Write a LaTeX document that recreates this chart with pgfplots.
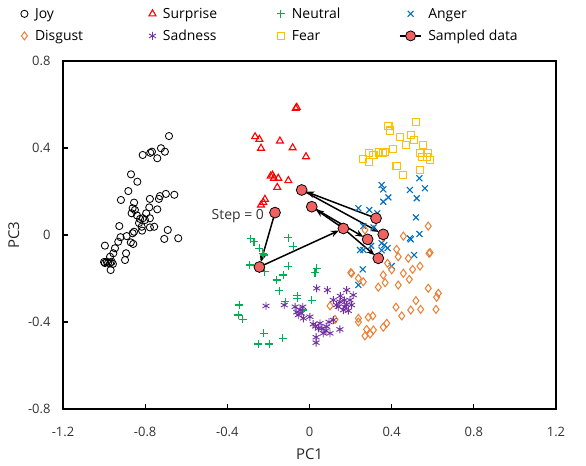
\documentclass[border=0pt]{standalone}
\usepackage{pgfplots}
\pgfplotsset{compat=1.18}
\usepackage{fontspec}
\setmainfont{Open Sans}
\usetikzlibrary{arrows.meta}

\definecolor{cneutral}{RGB}{0,176,80}
\definecolor{canger}{RGB}{0,112,192}
\definecolor{cdisgust}{RGB}{237,125,49}
\definecolor{csadness}{RGB}{112,48,160}
\definecolor{cfear}{RGB}{255,192,0}
\definecolor{csampled}{RGB}{240,98,98}

\begin{document}
\begin{tikzpicture}
\useasboundingbox (-63bp,-57bp) rectangle (523bp,409bp);
\begin{axis}[
    scale only axis,
    width=493bp, height=348bp,
    xmin=-1.2, xmax=1.2, ymin=-0.8, ymax=0.8,
    xtick={-1.2,-0.8,-0.4,0,0.4,0.8,1.2},
    ytick={-0.8,-0.4,0,0.4,0.8},
    tick pos=left, tick align=inside,
    major tick length=5bp,
    axis line style={line width=1.3bp},
    tick style={black, line width=1.2bp},
    /pgf/number format/assume math mode=true,
    ticklabel style={font=\fontsize{13}{15}\selectfont, text=black!80},
    xticklabel style={yshift=-15bp},
    yticklabel style={xshift=-9bp},
    xlabel={PC1}, ylabel={PC3},
    label style={font=\fontsize{15}{18}\selectfont, text=black!85},
    xlabel style={yshift=-5bp},
    ylabel style={yshift=2bp},
    legend columns=4,
    legend cell align=left,
    legend style={
        at={(-0.092,1.165)}, anchor=north west,
        draw=none, fill=none,
        font=\fontsize{14}{17}\selectfont,
        row sep=6bp,
        /tikz/every odd column/.append style={column sep=5bp},
        /tikz/every even column/.append style={column sep=0bp},
        /tikz/column 7/.append style={column sep=0bp}
    },
]
% Joy
\addplot[only marks, mark=o, mark size=3.6bp, black, mark options={line width=0.85bp}] coordinates {
(-0.684,0.455)(-0.723,0.399)(-0.704,0.383)(-0.767,0.383)(-0.775,0.378)(-0.812,0.368)
(-0.741,0.353)(-0.869,0.279)(-0.838,0.245)(-0.882,0.202)(-0.918,0.161)(-0.854,0.149)
(-0.777,0.166)(-0.733,0.166)(-0.699,0.189)(-0.658,0.185)(-0.728,0.179)(-0.741,0.118)
(-0.780,0.127)(-0.861,0.123)(-0.850,0.115)(-0.866,0.100)(-0.812,0.077)(-0.801,0.069)
(-0.825,0.074)(-0.777,0.077)(-0.756,0.038)(-0.777,0.035)(-0.817,0.038)(-0.926,0.041)
(-0.854,0.015)(-0.861,0.008)(-0.890,-0.005)(-0.690,0.023)(-0.707,-0.018)(-0.639,-0.015)
(-0.931,-0.031)(-0.858,-0.041)(-0.996,-0.049)(-0.947,-0.061)(-0.955,-0.084)(-0.893,-0.084)
(-0.971,-0.100)(-0.987,-0.123)(-0.971,-0.130)(-0.963,-0.123)(-0.898,-0.115)(-0.968,-0.161)
(-0.980,-0.127)(-0.870,-0.034)(-0.996,-0.129)(-1.000,-0.124)(-0.957,-0.133)(-0.840,0.090)
(-0.830,0.055)(-0.795,0.100)(-0.920,-0.010)(-0.815,0.020)
};
\addlegendentry{\makebox[112bp][l]{Joy}}
% Surprise
\addplot[only marks, mark=triangle, mark size=4bp, red, mark options={line width=1.1bp}] coordinates {
(-0.067,0.582)(-0.062,0.587)(-0.265,0.452)(-0.244,0.440)(-0.236,0.399)(-0.144,0.432)
(-0.082,0.401)(-0.017,0.360)(-0.189,0.271)(-0.152,0.261)(-0.157,0.219)(-0.103,0.250)
(-0.173,0.261)(-0.217,0.164)(-0.236,0.138)(-0.225,0.150)(-0.180,0.275)
};
\addlegendentry{\makebox[112bp][l]{Surprise}}
% Neutral
\addplot[only marks, mark=+, mark size=4bp, cneutral, mark options={line width=1.1bp}] coordinates {
(-0.286,-0.018)(-0.244,-0.061)(-0.228,-0.084)(-0.222,-0.092)(-0.103,-0.012)(-0.079,-0.051)
(-0.290,-0.138)(-0.217,-0.169)(-0.103,-0.143)(-0.160,-0.207)(-0.128,-0.184)(0.035,-0.153)
(0.027,-0.173)(-0.147,-0.256)(-0.059,-0.280)(-0.059,-0.291)(-0.119,-0.307)(-0.342,-0.322)
(-0.347,-0.368)(-0.325,-0.388)(-0.222,-0.452)(-0.249,-0.501)(-0.196,-0.501)(-0.130,-0.475)
(-0.033,-0.345)(-0.270,-0.030)(0.010,-0.300)
};
\addlegendentry{\makebox[105bp][l]{Neutral}}
% Anger
\addplot[only marks, mark=x, mark size=4.2bp, canger, mark options={line width=1.1bp}] coordinates {
(0.351,0.230)(0.359,0.210)(0.384,0.173)(0.359,0.153)(0.489,0.207)(0.522,0.169)
(0.562,0.215)(0.535,0.261)(0.238,0.123)(0.291,0.115)(0.518,0.081)(0.262,0.041)
(0.312,0.035)(0.489,-0.015)(0.535,0.005)(0.246,-0.069)(0.351,-0.038)(0.351,-0.070)
(0.509,-0.092)(0.400,-0.143)(0.259,-0.158)(0.493,-0.020)(0.238,-0.230)(0.364,-0.046)
(0.262,-0.069)(0.330,0.100)(0.300,-0.050)(0.380,-0.060)
};
\addlegendentry{Anger}
% Disgust
\addplot[only marks, mark=diamond, mark size=4bp, cdisgust, mark options={line width=1bp}] coordinates {
(0.578,0.041)(0.457,-0.005)(0.424,-0.066)(0.432,-0.100)(0.481,-0.107)(0.502,-0.158)
(0.538,-0.143)(0.587,-0.081)(0.582,-0.084)(0.457,-0.176)(0.486,-0.204)(0.432,-0.230)
(0.359,-0.184)(0.368,-0.219)(0.335,-0.240)(0.201,-0.173)(0.238,-0.199)(0.262,-0.215)
(0.578,-0.245)(0.627,-0.268)(0.619,-0.286)(0.518,-0.302)(0.421,-0.332)(0.493,-0.345)
(0.541,-0.342)(0.616,-0.342)(0.449,-0.372)(0.238,-0.383)(0.286,-0.378)(0.308,-0.372)
(0.376,-0.406)(0.359,-0.424)(0.278,-0.434)(0.311,-0.437)(0.270,-0.464)(0.295,-0.455)
(0.238,-0.400)(0.205,-0.176)(0.100,-0.326)(0.124,-0.388)(0.359,-0.008)(0.270,0.023)
(0.400,-0.160)(0.380,-0.130)
};
\addlegendentry{\makebox[112bp][l]{Disgust}}
% Sadness
\addplot[only marks, mark=asterisk, mark size=4bp, csadness, mark options={line width=0.9bp}] coordinates {
(0.035,-0.245)(0.087,-0.253)(-0.212,-0.326)(-0.123,-0.322)(0.181,-0.253)(0.116,-0.299)
(0.148,-0.307)(0.173,-0.330)(0.197,-0.299)(0.213,-0.276)(0.189,-0.348)(0.165,-0.345)
(0.132,-0.322)(0.205,-0.322)(-0.046,-0.345)(-0.055,-0.368)(-0.030,-0.383)(0.002,-0.376)
(0.051,-0.406)(0.043,-0.429)(0.084,-0.421)(0.100,-0.452)(0.067,-0.452)(0.116,-0.391)
(0.148,-0.434)(0.032,-0.470)(0.032,-0.495)(0.018,-0.410)(-0.062,-0.355)(-0.033,-0.330)
(-0.070,-0.330)(0.150,-0.280)(0.170,-0.300)(0.180,-0.320)(0.140,-0.330)(0.060,-0.430)
(0.080,-0.440)(-0.040,-0.360)(0.030,-0.420)(0.095,-0.400)
};
\addlegendentry{\makebox[112bp][l]{Sadness}}
% Fear
\addplot[only marks, mark=square, mark size=3.6bp, cfear, mark options={line width=1.1bp}] coordinates {
(0.384,0.501)(0.392,0.480)(0.518,0.521)(0.441,0.452)(0.493,0.460)(0.509,0.437)
(0.470,0.414)(0.554,0.414)(0.408,0.394)(0.368,0.383)(0.359,0.378)(0.538,0.376)
(0.578,0.378)(0.573,0.360)(0.587,0.345)(0.291,0.376)(0.311,0.368)(0.259,0.348)
(0.291,0.337)(0.424,0.317)(0.454,0.276)(0.538,0.299)(0.550,0.360)(0.340,0.380)
};
\addlegendentry{\makebox[105bp][l]{Fear}}
% steps between sampled points
\addplot[forget plot, black, line width=1.5bp, -{Stealth[length=8bp,width=6.5bp]}, shorten >=5bp, shorten <=3bp] coordinates {(-0.168,0.103)(-0.244,-0.147)};
\addplot[forget plot, black, line width=1.5bp, -{Stealth[length=8bp,width=6.5bp]}, shorten >=5bp, shorten <=3bp] coordinates {(-0.244,-0.147)(0.165,0.030)};
\addplot[forget plot, black, line width=1.5bp, -{Stealth[length=8bp,width=6.5bp]}, shorten >=5bp, shorten <=3bp] coordinates {(0.165,0.030)(0.011,0.130)};
\addplot[forget plot, black, line width=1.5bp, -{Stealth[length=8bp,width=6.5bp]}, shorten >=5bp, shorten <=3bp] coordinates {(0.011,0.130)(0.283,-0.020)};
\addplot[forget plot, black, line width=1.5bp, -{Stealth[length=8bp,width=6.5bp]}, shorten >=5bp, shorten <=3bp] coordinates {(0.324,0.077)(-0.038,0.207)};
\addplot[forget plot, black, line width=1.5bp, -{Stealth[length=8bp,width=6.5bp]}, shorten >=5bp, shorten <=3bp] coordinates {(-0.038,0.207)(0.359,0.003)};
\addplot[forget plot, black, line width=1.5bp, -{Stealth[length=8bp,width=6.5bp]}, shorten >=5bp, shorten <=3bp] coordinates {(0.165,0.030)(0.335,-0.107)};
% Sampled data
\addplot[only marks, mark=*, mark size=5.4bp, mark options={draw=black, fill=csampled, line width=0.8bp},
    legend image code/.code={
        \draw[black, line width=1.4bp] (-2.5bp,0bp) -- (18.5bp,0bp);
        \draw[black, fill=csampled, line width=0.8bp] (8.5bp,0bp) circle (5bp);
    }] coordinates {
(-0.168,0.103)(-0.244,-0.147)(0.165,0.030)(0.011,0.130)(-0.038,0.207)
(0.324,0.077)(0.283,-0.020)(0.359,0.003)(0.335,-0.107)
};
\addlegendentry{Sampled data}
\node[anchor=east, font=\fontsize{14}{16}\selectfont, text=black!80] at (axis cs:-0.205,0.085) {Step = 0};
\end{axis}
\end{tikzpicture}
\end{document}
